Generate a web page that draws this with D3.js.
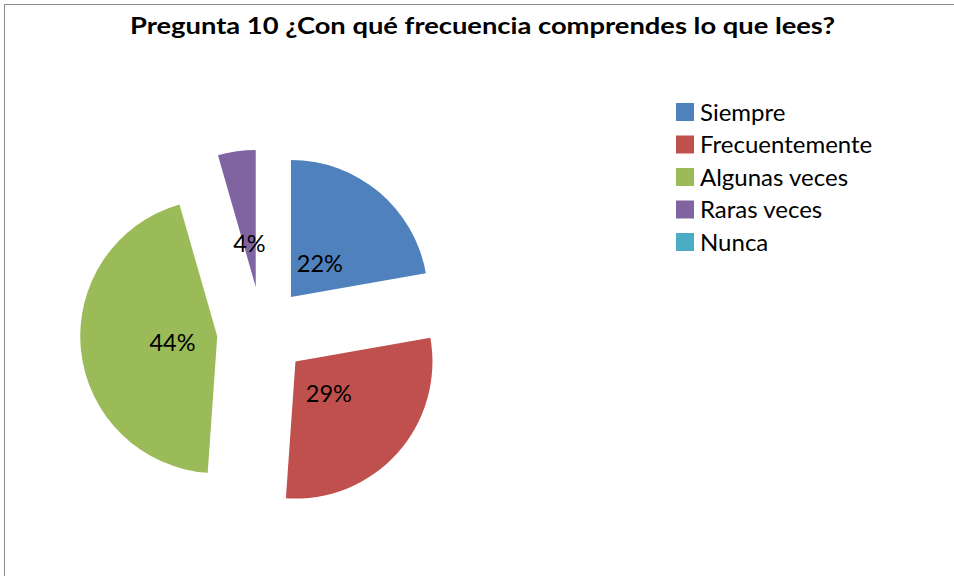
<!DOCTYPE html>
<html>
<head>
<meta charset="utf-8">
<script src="https://cdn.jsdelivr.net/npm/d3@7"></script>
<style>
    html, body { margin: 0; padding: 0; background: #fff; }
    svg { display: block; font-family: Lato, "Open Sans", sans-serif; }
</style>
</head>
<body>
<div id="chart"></div>
<script>
// respuestas a la pregunta 10 (45 alumnos)
var categories = ['Siempre', 'Frecuentemente', 'Algunas veces', 'Raras veces', 'Nunca'];
var counts = [10, 13, 20, 2, 0];
var colors = ['#4F81BD', '#C0504D', '#9BBB59', '#8064A2', '#4BACC6'];
var title = 'Pregunta 10 ¿Con qué frecuencia comprendes lo que lees?';

(function()
{
    var width = 954, height = 576,
        cx = 262, cy = 331.5, radius = 137, explode = 45, labelOffset = 90;

    var svg = d3.select('#chart').append('svg')
        .attr('width', width)
        .attr('height', height);

    // borde del area del grafico (se sale por la derecha y abajo)
    svg.append('rect')
        .attr('x', 4.5).attr('y', 4.5)
        .attr('width', 1200).attr('height', 1200)
        .attr('fill', 'none')
        .attr('stroke', '#8a8a8a')
        .attr('stroke-width', 1);

    var fit = function(sel, target)
    {
        sel.each(function()
        {
            var w = this.getComputedTextLength();
            if (Math.abs(w - target) > 1) {
                d3.select(this).attr('textLength', target).attr('lengthAdjust', 'spacingAndGlyphs');
            }
        });
    };

    svg.append('text')
        .attr('x', 482.5).attr('y', 34)
        .attr('text-anchor', 'middle')
        .style('font-size', '23.5px')
        .style('font-weight', 'bold')
        .attr('fill', '#000')
        .text(title)
        .call(fit, 705);

    var total = d3.sum(counts),
        pct = d3.format('.0%');

    var pie = d3.pie().sort(null).value(function(d) { return d; }),
        arcs = pie(counts),
        arc = d3.arc().innerRadius(0).outerRadius(radius),
        shift = d3.arc().innerRadius(explode).outerRadius(explode),
        lab = d3.arc().innerRadius(labelOffset).outerRadius(labelOffset);

    var g = svg.append('g').attr('transform', 'translate(' + cx + ',' + cy + ')');

    g.selectAll('path.slice')
        .data(arcs.filter(function(d) { return d.value > 0; }))
        .enter().append('path')
        .attr('class', 'slice')
        .attr('transform', function(d) { return 'translate(' + shift.centroid(d) + ')'; })
        .attr('d', arc)
        .attr('fill', function(d) { return colors[d.index]; });

    g.selectAll('text.pct')
        .data(arcs.filter(function(d) { return d.value > 0; }))
        .enter().append('text')
        .attr('class', 'pct')
        .attr('transform', function(d) { return 'translate(' + lab.centroid(d) + ')'; })
        .attr('dy', '0.42em')
        .attr('text-anchor', 'middle')
        .style('font-size', '23.5px')
        .attr('fill', '#000')
        .text(function(d) { return pct(d.value / total); });

    // leyenda
    var legend = svg.append('g').attr('transform', 'translate(676,103)'),
        row = legend.selectAll('g').data(categories).enter().append('g')
            .attr('transform', function(d, i) { return 'translate(0,' + (i * 32.5) + ')'; });

    row.append('rect')
        .attr('width', 18).attr('height', 18)
        .attr('fill', function(d, i) { return colors[i]; });

    row.append('text')
        .attr('x', 24).attr('y', 17.5)
        .style('font-size', '24px')
        .attr('fill', '#000')
        .text(function(d) { return d; });
})();
</script>
</body>
</html>
